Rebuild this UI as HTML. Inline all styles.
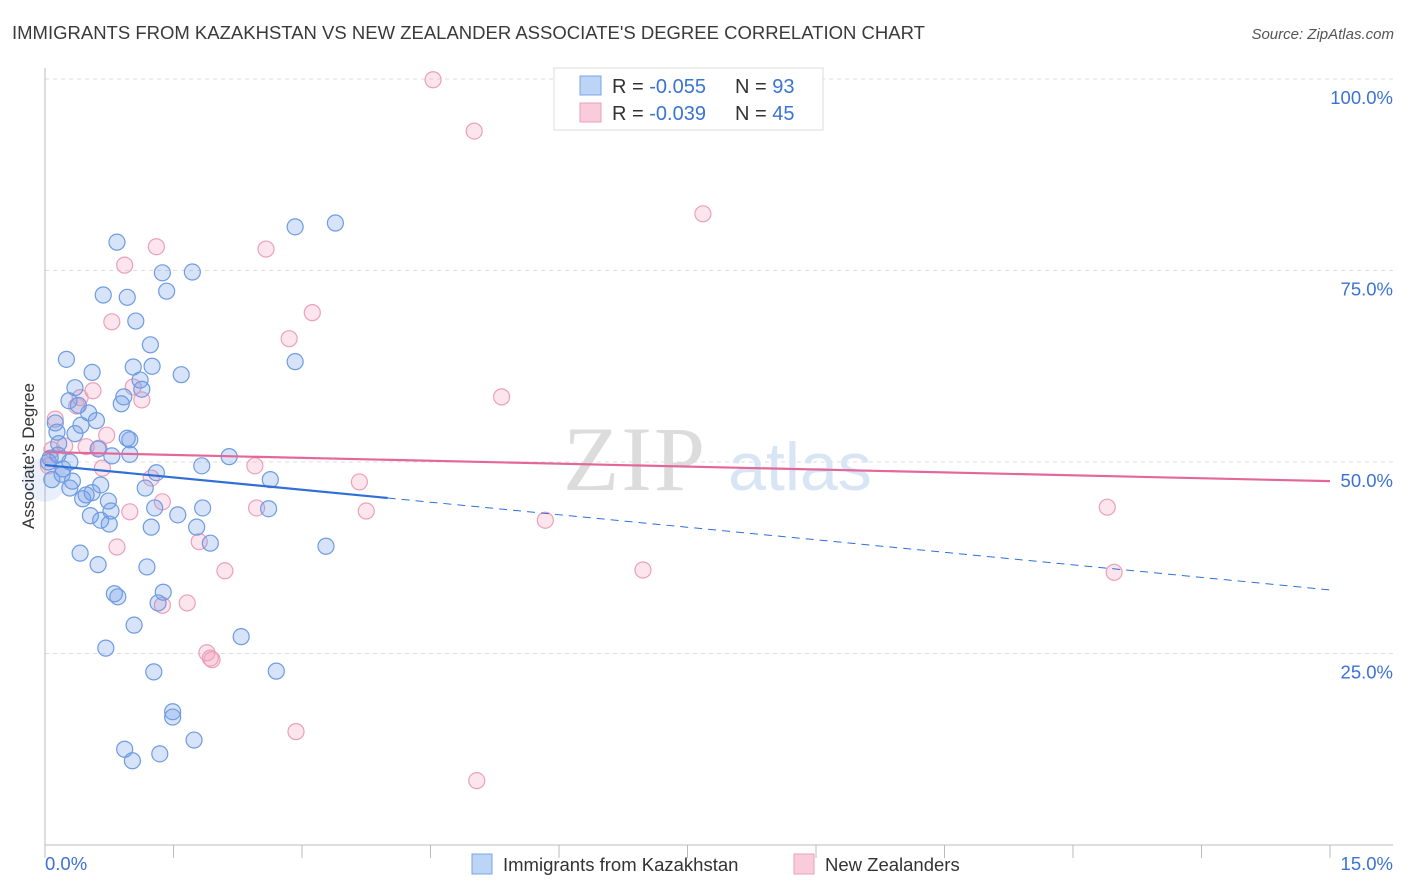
<!DOCTYPE html>
<html><head><meta charset="utf-8"><style>
body{margin:0;background:#fff;font-family:"Liberation Sans",sans-serif;}
svg{display:block}
</style></head><body>
<svg id="chart" width="1406" height="892" xmlns="http://www.w3.org/2000/svg" font-family="Liberation Sans, sans-serif">
<text x="12" y="39" font-size="18.5" fill="#3a3a3a">IMMIGRANTS FROM KAZAKHSTAN VS NEW ZEALANDER ASSOCIATE'S DEGREE CORRELATION CHART</text>
<text x="1394" y="39" font-size="15" fill="#555" font-style="italic" text-anchor="end">Source: ZipAtlas.com</text>
<g id="grid"></g>
<g>
<text x="635" y="490" font-size="92" fill="#dcdcdc" font-family="Liberation Serif, serif" text-anchor="middle" letter-spacing="2">ZIP</text>
<text x="800" y="490" font-size="68" fill="#d8e5f5" text-anchor="middle">atlas</text>
</g>
<g id="axes"></g>
<g id="marks"></g>
<g>
<rect x="554" y="68" width="269" height="62" fill="#fff" stroke="#ddd"/>
<rect x="580" y="76" width="21" height="19" fill="#bcd4f5" stroke="#7aa6e6"/>
<rect x="580" y="103" width="21" height="19" fill="#f9ccdb" stroke="#eba0ba"/>
<text x="612" y="93" font-size="20" fill="#333">R = <tspan fill="#3b73d4">-0.055</tspan></text>
<text x="735" y="93" font-size="20" fill="#333">N = <tspan fill="#3b73d4">93</tspan></text>
<text x="612" y="120" font-size="20" fill="#333">R = <tspan fill="#3b73d4">-0.039</tspan></text>
<text x="735" y="120" font-size="20" fill="#333">N = <tspan fill="#3b73d4">45</tspan></text>
</g>
<g>
<rect x="472" y="854" width="20" height="20" fill="#bcd4f5" stroke="#7aa6e6"/>
<text x="503" y="871" font-size="18.5" fill="#333">Immigrants from Kazakhstan</text>
<rect x="794" y="854" width="20" height="20" fill="#f9ccdb" stroke="#eba0ba"/>
<text x="825" y="871" font-size="18.5" fill="#333">New Zealanders</text>
</g>
<text transform="translate(34,456) rotate(-90)" font-size="17" fill="#333" text-anchor="middle">Associate's Degree</text>
</svg>
<script>
const yTicks=[100,75,50,25];
const yTickLabels=["100.0%","75.0%","50.0%","25.0%"];
const xTickCount=10;
const xLabels=["0.0%","15.0%"];
const blueX=[0.84,2.92,3.39,0.68,0.96,1.37,1.72,1.42,1.06,0.25,1.23,1.03,1.25,0.55,1.59,2.92,0.35,1.13,1.11,0.28,0.39,0.89,0.92,0.51,0.60,0.12,0.14,0.42,0.35,0.16,0.96,0.99,0.62,0.78,0.99,0.06,0.29,0.21,0.20,2.15,1.83,1.30,2.63,0.32,0.65,0.29,1.17,0.55,0.48,0.44,0.74,1.28,1.84,2.61,0.77,0.53,1.55,0.65,0.75,1.24,1.77,1.93,3.28,0.41,0.62,1.19,1.38,0.81,0.85,1.32,1.04,2.29,0.71,2.70,1.27,1.49,1.49,1.74,0.93,1.34,1.02,0.08,0.04,0.15];
const blueY=[78.7,80.7,81.2,71.8,71.5,74.7,74.8,72.3,68.4,63.4,65.3,62.4,62.5,61.7,61.4,63.1,59.7,59.5,60.7,58.0,57.4,57.6,58.5,56.4,55.4,55.1,53.9,54.8,53.7,52.4,53.1,52.9,51.7,50.8,51.0,50.5,50.0,49.1,48.4,50.7,49.5,48.6,47.7,47.5,47.0,46.6,46.6,46.0,45.7,45.2,44.9,44.0,44.0,43.9,43.6,43.0,43.1,42.4,41.9,41.5,41.5,39.4,39.0,38.1,36.6,36.3,33.0,32.8,32.4,31.6,28.7,27.2,25.7,22.7,22.6,17.4,16.7,13.7,12.5,11.9,11.0,47.7,50.0,50.9];
const pinkX=[4.53,5.01,7.68,1.30,2.58,0.93,0.78,3.12,2.85,1.03,0.56,1.13,0.41,0.37,5.33,0.12,0.72,0.48,0.63,0.23,2.45,0.67,1.24,3.67,1.37,2.47,3.75,0.99,5.84,12.40,0.84,1.80,2.10,6.98,12.48,1.66,1.37,1.89,1.95,1.93,2.93,5.04,0.04,0.08];
const pinkY=[99.9,93.2,82.4,78.1,77.8,75.7,68.3,69.5,66.1,59.8,59.3,58.1,58.4,57.3,58.5,55.6,53.5,52.0,51.8,52.1,49.5,49.2,47.9,47.4,44.8,44.0,43.6,43.5,42.4,44.1,38.9,39.6,35.8,35.9,35.6,31.6,31.3,25.1,24.2,24.4,14.8,8.4,49.5,51.6];
const blueTrend=[[0,49.6],[4.0,45.3],[15,33.3]];
const pinkTrend=[[0,51.3],[15,47.5]];
const NS="http://www.w3.org/2000/svg";
const X=v=>45+v/15*1285, Y=v=>845-v/100*766;
function mk(t,a,p){const e=document.createElementNS(NS,t);for(const k in a)e.setAttribute(k,a[k]);p.appendChild(e);return e;}
const grid=document.getElementById('grid'),axes=document.getElementById('axes'),marks=document.getElementById('marks');
yTicks.forEach((t,i)=>{
 const l=mk('line',{x1:45,x2:1393,y1:Y(t),y2:Y(t),stroke:'#ddd','stroke-dasharray':'4,4'},grid);
 
 
 const tx=mk('text',{x:1393,y:Y(t)+25,'font-size':18.5,fill:'#3b73d4','text-anchor':'end'},axes);
 tx.textContent=yTickLabels[i];
 
 
});
mk('line',{x1:45,x2:45,y1:68,y2:845,stroke:'#bbb'},axes);
mk('line',{x1:45,x2:1393,y1:845,y2:845,stroke:'#bbb'},axes);
for(let i=0;i<=xTickCount;i++){const x=X(i*15/xTickCount);
 const t=mk('line',{x1:x,x2:x,y1:845,y2:858,stroke:'#bbb'},axes);
 
 }
const xl0=mk('text',{x:45,y:870,'font-size':18.5,fill:'#3b73d4'},axes);xl0.textContent=xLabels[0];


const xl1=mk('text',{x:1393,y:870,'font-size':18.5,fill:'#3b73d4','text-anchor':'end'},axes);xl1.textContent=xLabels[1];


const big=mk('circle',{cx:X(0.0),cy:Y(47.7),r:22,fill:'rgba(110,155,230,0.15)'},marks);


pinkX.forEach((v,i)=>{const c=mk('circle',{cx:X(v),cy:Y(pinkY[i]),r:8,fill:'rgba(245,160,190,0.28)',stroke:'#eba0ba','stroke-width':1.2},marks);
 
 });
blueX.forEach((v,i)=>{const c=mk('circle',{cx:X(v),cy:Y(blueY[i]),r:8,fill:'rgba(110,155,230,0.28)',stroke:'#6d9ce2','stroke-width':1.2},marks);
 
 });
const bt=mk('line',{x1:X(blueTrend[0][0]),y1:Y(blueTrend[0][1]),x2:X(blueTrend[1][0]),y2:Y(blueTrend[1][1]),stroke:'#2f6fd6','stroke-width':2.2},marks);


const bd=mk('line',{x1:X(blueTrend[1][0]),y1:Y(blueTrend[1][1]),x2:X(blueTrend[2][0]),y2:Y(blueTrend[2][1]),stroke:'#2f6fd6','stroke-width':1,'stroke-dasharray':'8,6'},marks);


const pt=mk('line',{x1:X(pinkTrend[0][0]),y1:Y(pinkTrend[0][1]),x2:X(pinkTrend[1][0]),y2:Y(pinkTrend[1][1]),stroke:'#e4679a','stroke-width':2.2},marks);


</script>
</body></html>
